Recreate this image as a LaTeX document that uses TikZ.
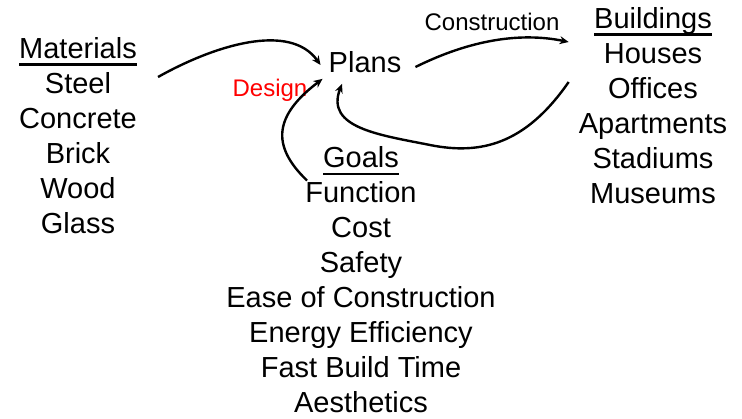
\documentclass[tikz,border=0pt]{standalone}
\usepackage{fontspec}
\setmainfont{Liberation Sans}
\usetikzlibrary{positioning,calc,arrows.meta}
\newcommand\heading[1]{\leavevmode\vtop{\setbox0\hbox{#1}\dp0=0pt\box0\kern5pt\hrule height 2.6pt}}
\begin{document}
\begin{tikzpicture}[x=1pt,y=-1pt]
	\tikzstyle{column}=[align=center,font=\fontsize{29}{35}\selectfont,inner sep=0pt,anchor=north]
	\tikzstyle{word}=[font=\fontsize{24}{28}\selectfont,inner sep=0pt]
	\tikzstyle{link}=[line width=2.4pt,-{Stealth[length=9pt,width=8pt]}]
	\useasboundingbox (0,0) rectangle (742,418);
	\node[column](materials) at (78,37) {\heading{Materials}\\Steel\\Concrete\\Brick\\Wood\\Glass};
	\node[column](buildings) at (653,7) {\heading{Buildings}\\Houses\\Offices\\Apartments\\Stadiums\\Museums};
	\node[column](goals) at (361,146.5) {\heading{Goals}\\Function\\Cost\\Safety\\Ease of Construction\\Energy Efficiency\\Fast Build Time\\Aesthetics};
	\node[font=\fontsize{29}{35}\selectfont,inner sep=6pt](plans) at (365,62) {Plans};
	\node[word](construct) at (492,22) {Construction};
	\node[word,text=red](design) at (270,90) {Design};
	\draw[link] ($(materials.north east)+(21,40)$) .. controls (215,45) and (290,22) .. ($(plans.west)+(-2,3)$);
	\draw[link] ($(plans.east)+(8,5)$) .. controls (470,40) and (520,32) .. ($(buildings.north west)+(-10,35)$);
	\draw[link] ($(buildings.north west)+(-10,75)$) .. controls (525,145) and (480,155) .. (430,145)
		.. controls (380,135) and (325,128) .. ($(plans.south)+(-23,5)$);
	\draw[link] ($(goals.north)+(-54,34)$) .. controls (270,145) and (275,115) .. (plans.south west);
\end{tikzpicture}
\end{document}
